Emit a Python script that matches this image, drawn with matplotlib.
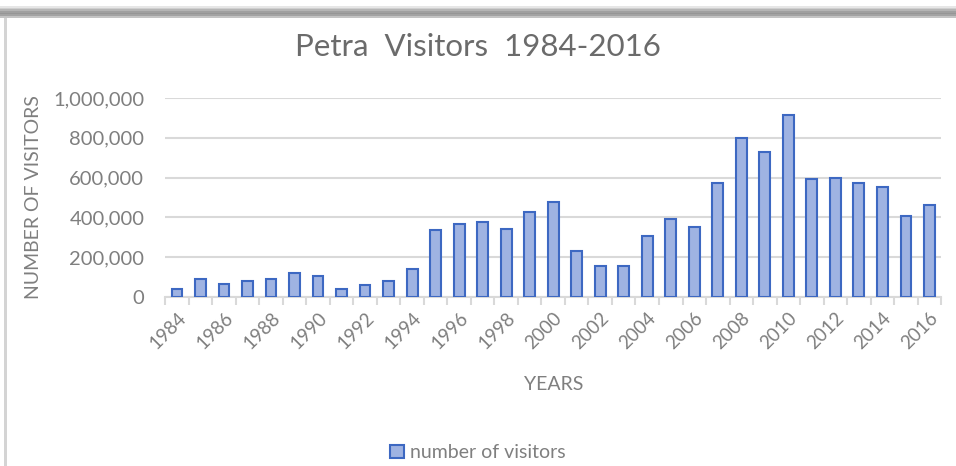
import matplotlib
matplotlib.use("Agg")
import matplotlib.pyplot as plt
import numpy as np
from matplotlib.patches import Rectangle
from matplotlib.ticker import FuncFormatter, FixedLocator

# data
years = list(range(1984, 2017))
visitors = [42000, 91000, 67000, 79000, 91000, 123000, 104000, 42000, 60000, 79000,
            139000, 336000, 366000, 378000, 343000, 427000, 475000, 232000, 158000, 158000,
            306000, 390000, 353000, 573000, 800000, 728000, 917000, 591000, 600000, 573000,
            551000, 408000, 464000]
year_labels = [str(y) if (y - 1984) % 2 == 0 else "" for y in years]

plt.rcParams["font.family"] = ["Lato", "DejaVu Sans"]

fig = plt.figure(figsize=(9.56, 4.66), dpi=100)
ax = fig.add_axes([0.1728, 0.3627, 0.8117, 0.4270])

# shadow frame like the screenshot (soft grey band on top, thin line on the left)
greys = ["#e6e6e6", "#cfcfcf", "#b5b5b5", "#a0a0a0", "#969696", "#a3a3a3", "#c4c4c4"]
for i, g in enumerate(greys):
    y0 = 1 - (6 + i * 1.7 + 1.7) / 466
    fig.patches.append(Rectangle((0, y0), 1, 1.8 / 466, transform=fig.transFigure,
                                 facecolor=g, edgecolor="none", zorder=0))
fig.patches.append(Rectangle((4 / 956, 0), 3 / 956, 1 - 18 / 466, transform=fig.transFigure,
                             facecolor="#d4d4d4", edgecolor="none", zorder=0))

x = np.arange(len(years))
ax.bar(x, visitors, width=0.46, color="#9fb3e2", edgecolor="#3d68c2",
       linewidth=1.5, label="number of visitors", zorder=3)

ax.set_xlim(-0.5, len(years) - 0.5)
ax.set_ylim(0, 1000000)
ax.set_yticks(np.arange(0, 1000001, 200000))
ax.yaxis.set_major_formatter(FuncFormatter(lambda v, p: f"{int(v):,}"))
ax.grid(axis="y", color="#d9d9d9", linewidth=1.5, zorder=0)

ax.set_xticks(x)
ax.set_xticklabels(year_labels, rotation=45, ha="right", rotation_mode="anchor")
ax.xaxis.set_minor_locator(FixedLocator(np.arange(-0.5, len(years), 1)))
ax.tick_params(axis="x", which="major", length=0, pad=9, labelsize=13.5, labelcolor="#7f7f7f")
ax.tick_params(axis="x", which="minor", length=6, color="#d9d9d9", width=1.5)
ax.tick_params(axis="y", length=0, pad=15, labelsize=14.5, labelcolor="#7f7f7f")

for s in ["top", "right", "left"]:
    ax.spines[s].set_visible(False)
ax.spines["bottom"].set_color("#d9d9d9")
ax.spines["bottom"].set_linewidth(1.5)

fig.suptitle("Petra  Visitors  1984-2016", x=0.5, y=0.9, fontsize=22.5, color="#6b6b6b",
             va="center")
ax.set_xlabel("YEARS", fontsize=14, color="#7f7f7f", va="center")
ax.xaxis.set_label_coords(0.5, -0.442)
ax.set_ylabel("NUMBER OF VISITORS", fontsize=14, color="#7f7f7f", va="center")
ax.yaxis.set_label_coords(-0.170, 0.5)

fig.legend(loc="center", bbox_to_anchor=(0.5, 0.028), frameon=False, fontsize=14,
           handlelength=0.7, handleheight=0.7, handletextpad=0.3, labelcolor="#7f7f7f")

fig.savefig("out.png", dpi=100, facecolor="white")
